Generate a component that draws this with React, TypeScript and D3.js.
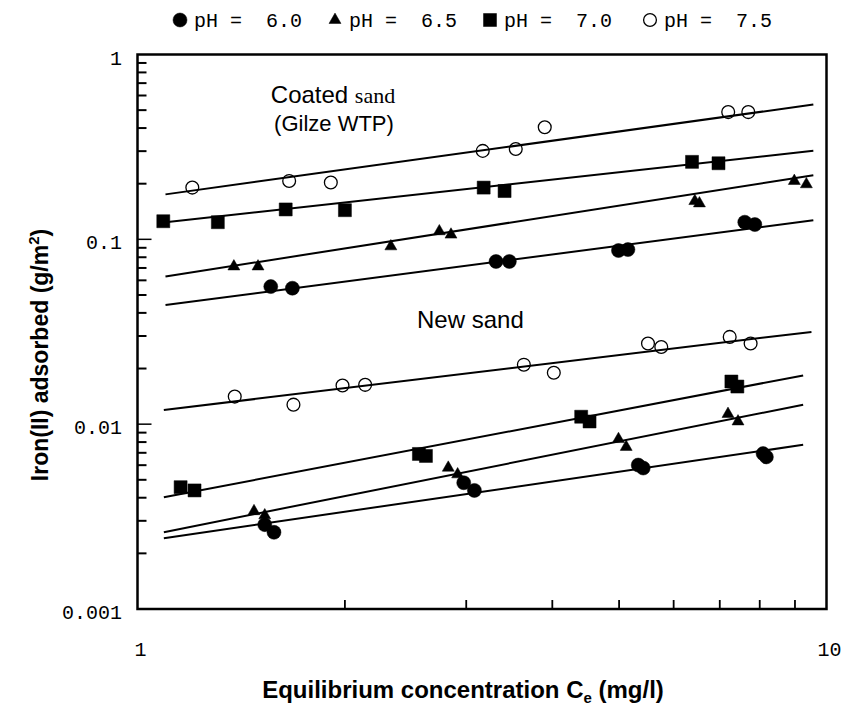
import React from 'react';
import * as d3 from 'd3';

// ---------- data ----------
const coatedPH60X = [1.561, 1.678, 3.314, 3.465, 4.99, 5.15, 7.61, 7.87];
const coatedPH60Y = [0.0555, 0.0544, 0.0759, 0.0759, 0.087, 0.088, 0.1238, 0.1202];
const coatedPH65X = [1.38, 1.496, 2.332, 2.742, 2.851, 6.44, 6.54, 8.98, 9.35];
const coatedPH65Y = [0.0713, 0.0713, 0.0916, 0.1105, 0.106, 0.161, 0.1564, 0.2068, 0.1985];
const coatedPH70X = [1.09, 1.308, 1.641, 2.0, 3.18, 3.41, 6.38, 6.97];
const coatedPH70Y = [0.1253, 0.1238, 0.1451, 0.1438, 0.1905, 0.1825, 0.2625, 0.258];
const coatedPH75X = [1.201, 1.66, 1.908, 3.17, 3.54, 3.9, 7.2, 7.7];
const coatedPH75Y = [0.1905, 0.207, 0.203, 0.301, 0.308, 0.404, 0.488, 0.488];

const newPH60X = [1.53, 1.578, 2.975, 3.083, 5.33, 5.42, 8.09, 8.18];
const newPH60Y = [0.00286, 0.0026, 0.00482, 0.00438, 0.00601, 0.00579, 0.00693, 0.00665];
const newPH65X = [1.476, 1.53, 2.825, 2.915, 4.99, 5.12, 7.195, 7.44];
const newPH65Y = [0.00338, 0.00321, 0.00581, 0.00535, 0.0083, 0.00753, 0.01135, 0.01034];
const newPH70X = [1.155, 1.21, 2.561, 2.622, 4.405, 4.53, 7.277, 7.424];
const newPH70Y = [0.00456, 0.00438, 0.0069, 0.00673, 0.01097, 0.01034, 0.01701, 0.01598];
const newPH75X = [1.384, 1.684, 1.984, 2.14, 3.637, 4.02, 5.507, 5.757, 7.236, 7.76];
const newPH75Y = [0.0141, 0.01275, 0.01618, 0.01632, 0.02098, 0.01897, 0.0273, 0.02616, 0.02965, 0.0273];

// Freundlich fits  q = K * C^n  (pH 6.0, 6.5, 7.0, 7.5)
const coatedFitK = [0.0421, 0.0596, 0.119, 0.1668];
const coatedFitN = [0.488, 0.583, 0.411, 0.517];
const coatedFitStart = [1.098, 1.098, 1.098, 1.098];
const coatedFitEnd = [9.57, 9.57, 9.57, 9.57];
const newFitK = [0.002304, 0.00244, 0.003782, 0.01147];
const newFitN = [0.544, 0.743, 0.71, 0.4495];
const newFitStart = [1.092, 1.092, 1.092, 1.092];
const newFitEnd = [9.25, 9.25, 9.25, 9.51];

const legendLabels = ['pH =  6.0', 'pH =  6.5', 'pH =  7.0', 'pH =  7.5'];
const yTickValues = [0.001, 0.01, 0.1, 1];
const yTickLabels = ['0.001', '0.01', '0.1', '1'];
const xTickValues = [1, 10];
const xTickLabels = ['1', '10'];

// ---------- layout ----------
const W = 846;
const H = 707;
const x = d3.scaleLog().domain([1, 10]).range([137.5, 826.5]);
const y = d3.scaleLog().domain([0.001, 1]).range([609, 54.5]);

type Kind = 'filled' | 'triangle' | 'square' | 'open';
const kinds: Kind[] = ['filled', 'triangle', 'square', 'open'];

function markerPath(kind: Kind): string {
  if (kind === 'filled') return d3.symbol().type(d3.symbolCircle).size(Math.PI * 7 * 7)() as string;
  if (kind === 'open') return d3.symbol().type(d3.symbolCircle).size(Math.PI * 6.4 * 6.4)() as string;
  if (kind === 'square') return d3.symbol().type(d3.symbolSquare).size(13 * 13)() as string;
  return d3.symbol().type(d3.symbolTriangle).size(62)() as string;
}

function Marker({ kind, cx, cy }: { kind: Kind; cx: number; cy: number }) {
  const open = kind === 'open';
  return (
    <path
      d={markerPath(kind)}
      transform={`translate(${cx},${cy})`}
      fill={open ? 'none' : '#000'}
      stroke="#000"
      strokeWidth={open ? 1.3 : 0.5}
    />
  );
}

const seriesX = [
  [coatedPH60X, coatedPH65X, coatedPH70X, coatedPH75X],
  [newPH60X, newPH65X, newPH70X, newPH75X],
];
const seriesY = [
  [coatedPH60Y, coatedPH65Y, coatedPH70Y, coatedPH75Y],
  [newPH60Y, newPH65Y, newPH70Y, newPH75Y],
];
const fitK = [coatedFitK, newFitK];
const fitN = [coatedFitN, newFitN];
const fitStart = [coatedFitStart, newFitStart];
const fitEnd = [coatedFitEnd, newFitEnd];

const line = d3
  .line<number>()
  .x((d) => x(d))
  .y(() => 0);

export default function App() {
  const lines: React.ReactNode[] = [];
  const points: React.ReactNode[] = [];
  for (let g = 0; g < 2; g++) {
    for (let s = 0; s < 4; s++) {
      const K = fitK[g][s];
      const n = fitN[g][s];
      const xs = [fitStart[g][s], fitEnd[g][s]];
      const path = d3
        .line<number>()
        .x((d) => x(d))
        .y((d) => y(K * Math.pow(d, n)))(xs);
      lines.push(<path key={`l${g}${s}`} d={path || ''} fill="none" stroke="#000" strokeWidth={2} />);
      seriesX[g][s].forEach((xv, i) => {
        points.push(<Marker key={`p${g}${s}${i}`} kind={kinds[s]} cx={x(xv)} cy={y(seriesY[g][s][i])} />);
      });
    }
  }
  void line;

  const x0 = x(1);
  const x1 = x(10);
  const yTop = y(1);
  const yBot = y(0.001);

  const yMinor: React.ReactNode[] = [];
  [0.001, 0.01, 0.1].forEach((dec) => {
    for (let k = 2; k <= 9; k++) {
      const yy = y(dec * k);
      yMinor.push(<line key={`ym${dec}${k}`} x1={x0} x2={x0 + 9} y1={yy} y2={yy} stroke="#000" strokeWidth={2} />);
    }
  });
  [0.01, 0.1].forEach((v) => {
    yMinor.push(<line key={`yM${v}`} x1={x0} x2={x0 + 14} y1={y(v)} y2={y(v)} stroke="#000" strokeWidth={1.5} />);
  });
  const xMinor: React.ReactNode[] = [];
  for (let k = 2; k <= 9; k++) {
    const xx = x(k);
    xMinor.push(<line key={`xm${k}`} x1={xx} x2={xx} y1={yBot} y2={yBot - 9} stroke="#000" strokeWidth={1.8} />);
  }

  const legendX = [180, 335, 490, 650];
  const mono = '"Liberation Mono", "DejaVu Sans Mono", monospace';
  const sans = '"Liberation Sans", Arial, sans-serif';

  return (
    <svg width={W} height={H} style={{ display: 'block', position: 'absolute', left: 0, top: 0 }} xmlns="http://www.w3.org/2000/svg">
      <rect x={0} y={0} width={W} height={H} fill="#fff" />
      {/* legend */}
      {legendLabels.map((lab, i) => (
        <g key={`lg${i}`}>
          <Marker kind={kinds[i]} cx={legendX[i]} cy={20} />
          <text x={legendX[i] + 14} y={27} fontFamily={mono} fontSize={20} style={{ whiteSpace: 'pre' }}>
            {lab}
          </text>
        </g>
      ))}
      {/* frame */}
      <rect x={x0} y={yTop} width={x1 - x0} height={yBot - yTop} fill="none" stroke="#000" strokeWidth={2.5} />
      {yMinor}
      {xMinor}
      {/* tick labels */}
      {yTickValues.map((v, i) => (
        <text key={`yt${i}`} x={122} y={y(v) + 10} textAnchor="end" fontFamily={mono} fontSize={20}>
          {yTickLabels[i]}
        </text>
      ))}
      {xTickValues.map((v, i) => (
        <text key={`xt${i}`} x={x(v) + 3} y={656} textAnchor="middle" fontFamily={mono} fontSize={20}>
          {xTickLabels[i]}
        </text>
      ))}
      {/* fit lines and points */}
      {lines}
      {points}
      {/* annotations */}
      <text x={333} y={103} textAnchor="middle" fontFamily={sans} fontSize={24}>
        Coated <tspan fontFamily='"Liberation Serif", serif' fontSize={22}>sand</tspan>
      </text>
      <text x={334} y={131} textAnchor="middle" fontFamily={sans} fontSize={22}>
        (Gilze WTP)
      </text>
      <text x={417} y={328} fontFamily={sans} fontSize={24}>
        New sand
      </text>
      {/* axis titles */}
      <text x={463} y={698} textAnchor="middle" fontFamily={sans} fontSize={24} fontWeight="bold">
        Equilibrium concentration C<tspan fontSize={15} dy={5}>e</tspan>
        <tspan dy={-5}> (mg/l)</tspan>
      </text>
      <text
        transform="translate(48,355) rotate(-90)"
        textAnchor="middle"
        fontFamily={sans}
        fontSize={23}
        fontWeight="bold"
      >
        Iron(II) adsorbed (g/m<tspan fontSize={15} dy={-9}>2</tspan>
        <tspan dy={9}>)</tspan>
      </text>
    </svg>
  );
}
